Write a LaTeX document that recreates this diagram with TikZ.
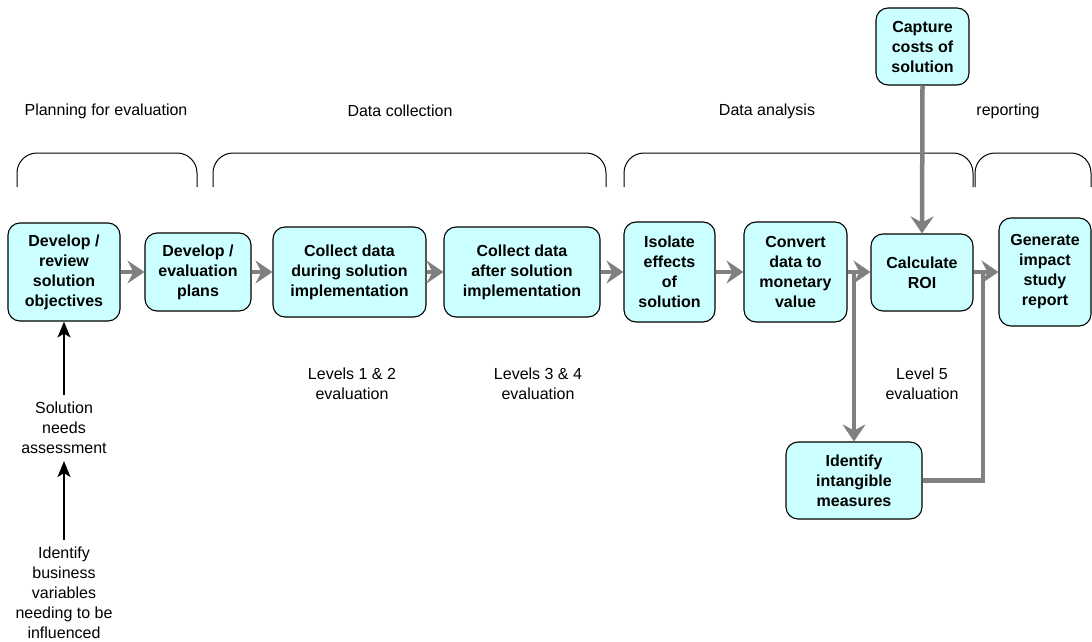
\documentclass[tikz,border=0pt]{standalone}
\usepackage{fontspec}
\setmainfont{Liberation Sans}
\usetikzlibrary{arrows.meta}
\definecolor{boxfill}{RGB}{204,255,255}
\definecolor{flowgray}{RGB}{128,128,128}
\tikzset{
  procbox/.style={draw=black, line width=1.1pt, fill=boxfill, rounded corners=12pt,
    align=center, font=\fontsize{16}{20}\selectfont\bfseries, inner sep=2pt},
  plainlbl/.style={align=center, font=\fontsize{16}{20}\selectfont, inner sep=2pt},
  flowarrow/.style={draw=flowgray, line width=4.5pt, -{Stealth[length=17pt,width=23pt,inset=6pt]}},
  flowline/.style={draw=flowgray, line width=4.5pt},
  blackarrow/.style={draw=black, line width=1.3pt, -{Stealth[length=16pt,width=13pt,inset=4pt]}},
  bracketline/.style={draw=black, line width=1pt, rounded corners=20pt}
}
\begin{document}
\begin{tikzpicture}[x=1pt,y=-1pt]
\useasboundingbox (0,0) rectangle (1092,642);

% section labels
\node[plainlbl] (lplan) at (106,111) {Planning for evaluation};
\node[plainlbl] (lcoll) at (400,111) {Data collection};
\node[plainlbl] (lanal) at (767,111) {Data analysis};
\node[plainlbl] (lrep) at (1008,111) {reporting};

% brackets
\draw[bracketline] (17,187) -- (17,153) -- (197,153) -- (197,187);
\draw[bracketline] (213,187) -- (213,153) -- (606,153) -- (606,187);
\draw[bracketline] (624,187) -- (624,153) -- (973,153) -- (973,187);
\draw[bracketline] (975,187) -- (975,153) -- (1091,153) -- (1091,187);

% process boxes
\node[procbox, minimum width=112pt, minimum height=98pt] (b1) at (64,272) {Develop /\\review\\solution\\objectives};
\node[procbox, minimum width=106pt, minimum height=78pt] (b2) at (198,272) {Develop /\\evaluation\\plans};
\node[procbox, minimum width=153pt, minimum height=90pt] (b3) at (349.5,272) {Collect data\\during solution\\implementation};
\node[procbox, minimum width=156pt, minimum height=90pt] (b4) at (522,272) {Collect data\\after solution\\implementation};
\node[procbox, minimum width=91pt, minimum height=100pt] (b5) at (669.5,272) {Isolate\\effects\\of\\solution};
\node[procbox, minimum width=103pt, minimum height=100pt] (b6) at (795.5,272) {Convert\\data to\\monetary\\value};
\node[procbox, minimum width=102pt, minimum height=77pt] (b7) at (922,272.5) {Calculate\\ROI};
\node[procbox, minimum width=92pt, minimum height=108pt] (b8) at (1045,272) {Generate\\impact\\study\\report};
\node[procbox, minimum width=93pt, minimum height=77pt] (cap) at (922.5,46.5) {Capture\\costs of\\solution};
\node[procbox, minimum width=136pt, minimum height=77pt] (intang) at (854,480.5) {Identify\\intangible\\measures};

% level labels
\node[plainlbl] (lev12) at (352,384) {Levels 1 \& 2\\evaluation};
\node[plainlbl] (lev34) at (538,384) {Levels 3 \& 4\\evaluation};
\node[plainlbl] (lev5) at (922,384) {Level 5\\evaluation};

% left column texts
\node[plainlbl, inner sep=7pt] (sna) at (64,428) {Solution\\needs\\assessment};
\node[plainlbl, inner sep=7pt] (ibv) at (64,593) {Identify\\business\\variables\\needing to be\\influenced};

% junction coordinates
\coordinate (j1) at (854,272);
\coordinate (j2) at (983,272);

% gray flow arrows
\draw[flowarrow] (b1.east |- 0,272) -- (b2.west |- 0,272);
\draw[flowarrow] (b2.east |- 0,272) -- (b3.west |- 0,272);
\draw[flowarrow] (b3.east |- 0,272) -- (b4.west |- 0,272);
\draw[flowarrow] (b4.east |- 0,272) -- (b5.west |- 0,272);
\draw[flowarrow] (b5.east |- 0,272) -- (b6.west |- 0,272);
\draw[flowarrow] (b6.east |- 0,272) -- (b7.west |- 0,272);
\draw[flowarrow] (b7.east |- 0,272) -- (b8.west |- 0,272);
\draw[flowarrow] (cap.south) -- (b7.north);
\draw[flowarrow] (j1) -- (intang.north);
\draw[flowline] (intang.east) -| (j2);

% black arrows
\draw[blackarrow] (sna.north) -- (b1.south);
\draw[blackarrow] (ibv.north) -- (sna.south);
\end{tikzpicture}
\end{document}
